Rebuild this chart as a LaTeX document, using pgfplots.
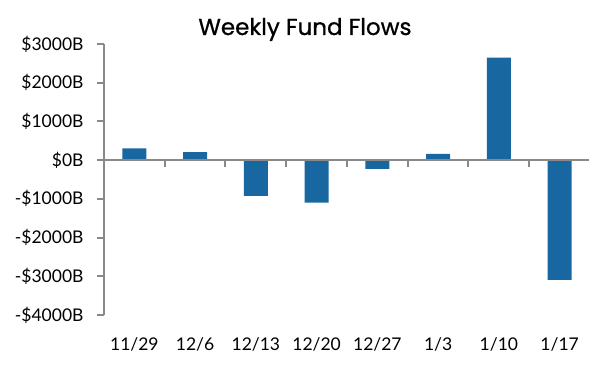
\documentclass[border=0pt]{standalone}
\usepackage{pgfplots}
\pgfplotsset{compat=1.18}
\usepackage{fontspec}
\setmainfont{Lato}
\newfontfamily\titlefont{Poppins}[FakeBold=0.8]
\definecolor{barblue}{RGB}{24,103,160}
\definecolor{axgray}{RGB}{137,137,137}
\begin{document}
\begin{tikzpicture}
\begin{axis}[
  scale only axis,
  width=486bp, height=271bp,
  xmin=-0.5, xmax=7.5,
  ymin=-4000, ymax=3000,
  ytick={-4000,-3000,...,3000},
  yticklabels={-\$4000B,-\$3000B,-\$2000B,-\$1000B,\$0B,\$1000B,\$2000B,\$3000B},
  xtick={0,...,7},
  xticklabels={11/29,12/6,12/13,12/20,12/27,1/3,1/10,1/17},
  axis x line=bottom,
  axis y line=left,
  x axis line style={draw=none,-},
  y axis line style={axgray, line width=2bp,-},
  x tick style={draw=none},
  y tick style={axgray, line width=2bp},
  tick align=outside,
  major tick length=7bp,
  yticklabel style={font=\fontsize{17.5bp}{20bp}\selectfont, xshift=-10bp},
  xticklabel style={font=\fontsize{17.5bp}{20bp}\selectfont, anchor=north, yshift=-12bp},
  ybar, bar width=24bp,
  clip=false,
]
\addplot[fill=barblue, draw=none] coordinates {
  (0,305) (1,210) (2,-925) (3,-1100) (4,-225) (5,160) (6,2650) (7,-3090)
};
\draw[axgray, line width=2.5bp] (axis cs:-0.5,0) -- (axis cs:7.5,0);
\draw[axgray, line width=2bp] (axis cs:0.5,0) -- (axis cs:0.5,-180);
\draw[axgray, line width=2bp] (axis cs:1.5,0) -- (axis cs:1.5,-180);
\draw[axgray, line width=2bp] (axis cs:2.5,0) -- (axis cs:2.5,-180);
\draw[axgray, line width=2bp] (axis cs:3.5,0) -- (axis cs:3.5,-180);
\draw[axgray, line width=2bp] (axis cs:4.5,0) -- (axis cs:4.5,-180);
\draw[axgray, line width=2bp] (axis cs:5.5,0) -- (axis cs:5.5,-180);
\draw[axgray, line width=2bp] (axis cs:6.5,0) -- (axis cs:6.5,-180);
\end{axis}
\node[font=\titlefont\fontsize{23bp}{26bp}\selectfont, anchor=base] at (201bp,280bp) {Weekly Fund Flows};
\pgfresetboundingbox
\path[use as bounding box] (-104bp,-60bp) rectangle (485bp,315bp);
\end{tikzpicture}
\end{document}
